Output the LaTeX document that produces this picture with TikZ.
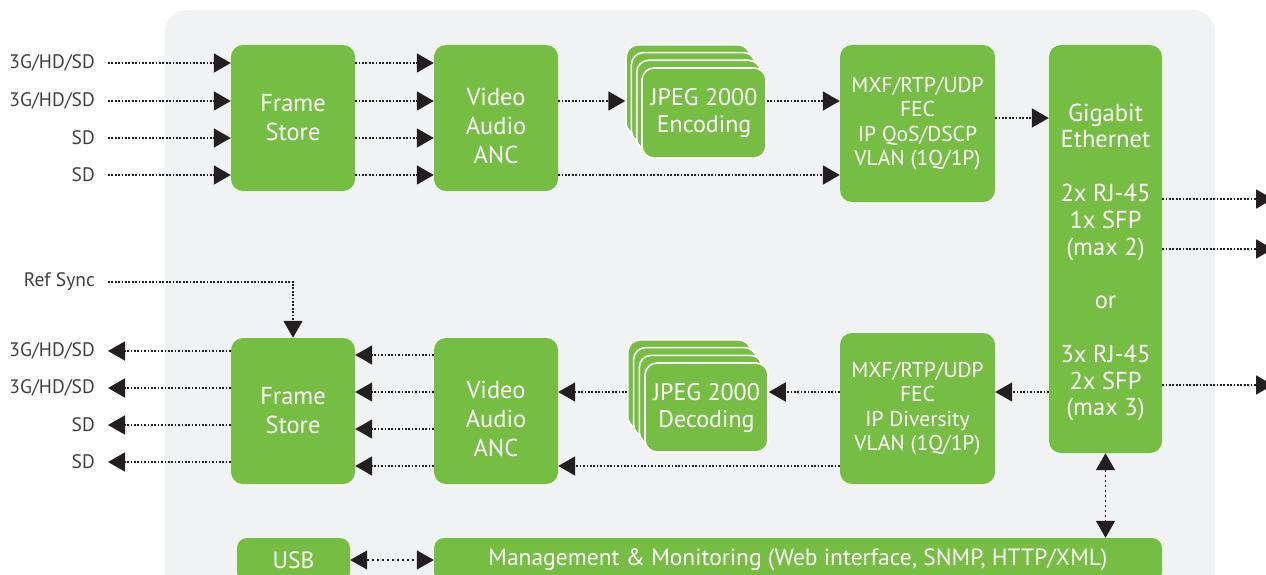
\documentclass[tikz,border=0pt]{standalone}
\usepackage{fontspec}
\setmainfont{PT Sans}
\usetikzlibrary{arrows.meta,calc}
\definecolor{gr}{HTML}{76BE43}
\definecolor{panel}{HTML}{F1F2F4}
\definecolor{ink}{HTML}{231F20}
\definecolor{lbl}{HTML}{404040}
\begin{document}
\begin{tikzpicture}[x=1pt,y=-1pt,
 gbox/.style={fill=gr, rounded corners=12pt, inner sep=0pt, text=white, align=center},
 stk/.style={gbox, draw=white, line width=1.6pt, minimum width=124pt, minimum height=90pt},
 btxt/.style={text=white, align=center, inner sep=0pt},
 lab/.style={text=lbl, anchor=east, inner sep=0pt, font=\fontsize{19.5}{21}\selectfont},
 arr/.style={draw=ink, line width=1.8pt, dash pattern=on 1.7pt off 1.7pt, -{Triangle[length=17pt,width=19pt]}},
 barr/.style={draw=ink, line width=1.5pt, dash pattern=on 2.5pt off 2.5pt, {Triangle[length=17pt,width=19pt]}-{Triangle[length=17pt,width=19pt]}},
 big/.style={font=\fontsize{24.5}{29}\selectfont},
 mid/.style={font=\fontsize{24}{27}\selectfont},
 sml/.style={font=\fontsize{21.5}{24.5}\selectfont},
]
\useasboundingbox (0,0) rectangle (1266,575);
\fill[panel, rounded corners=22pt] (165,10) rectangle (1215,620);

% top row boxes
\node[gbox, big, minimum width=124pt, minimum height=146pt] (fs1) at (293,118) {Frame\\Store};
\node[gbox, minimum width=124pt, minimum height=146pt] (va1) at (496,118) {};
\node[btxt, big] (va1t) at (496,126) {Video\\Audio\\ANC};
\node[stk] (e3) at (688.1,89.9) {};
\node[stk] (e2) at (693.4,97.6) {};
\node[stk] (e1) at (698.7,105.3) {};
\node[stk, mid] (e0) at (704,113) {JPEG 2000\\Encoding};
\node[gbox, sml, minimum width=155pt, minimum height=157pt] (mx1) at (917.5,123.5) {MXF/RTP/UDP\\FEC\\IP QoS/DSCP\\VLAN (1Q/1P)};
\node[gbox, minimum width=113pt, minimum height=408pt] (geth) at (1105.5,249) {};
\node[btxt, font=\fontsize{24.5}{26.8}\selectfont] (gtxt) at (1105.5,262.5) {Gigabit\\Ethernet\\[26.8pt]2x RJ-45\\1x SFP\\(max 2)\\[26.8pt]or\\[26.8pt]3x RJ-45\\2x SFP\\(max 3)};

% bottom row boxes
\node[gbox, big, minimum width=124pt, minimum height=146pt] (fs2) at (293,411) {Frame\\Store};
\node[gbox, minimum width=124pt, minimum height=146pt] (va2) at (496,411) {};
\node[btxt, big] (va2t) at (496,419) {Video\\Audio\\ANC};
\node[stk, minimum width=123pt, minimum height=89pt] (d3) at (689.4,384.4) {};
\node[stk, minimum width=123pt, minimum height=89pt] (d2) at (695.1,392.1) {};
\node[stk, minimum width=123pt, minimum height=89pt] (d1) at (700.8,399.8) {};
\node[stk, mid, minimum width=123pt, minimum height=89pt] (d0) at (706.5,407.5) {JPEG 2000\\Decoding};
\node[gbox, sml, minimum width=155pt, minimum height=151pt] (mx2) at (917.5,408.5) {MXF/RTP/UDP\\FEC\\IP Diversity\\VLAN (1Q/1P)};

\node[gbox, font=\fontsize{23.5}{26}\selectfont, rounded corners=10pt, minimum width=113pt, minimum height=44pt] (usb) at (293.5,560) {USB};
\node[gbox, font=\fontsize{23.5}{26}\selectfont, rounded corners=10pt, minimum width=728pt, minimum height=44pt] (mgmt) at (798,560) {Management \& Monitoring (Web interface, SNMP, HTTP/XML)};

% labels
\node[lab] (li1) at (95,63) {3G/HD/SD};
\node[lab] (li2) at (95,101) {3G/HD/SD};
\node[lab] (li3) at (95,138) {SD};
\node[lab] (li4) at (95,175) {SD};
\node[lab] (lref) at (95,282) {Ref Sync};
\node[lab] (lo1) at (95,351) {3G/HD/SD};
\node[lab] (lo2) at (95,388) {3G/HD/SD};
\node[lab] (lo3) at (95,425) {SD};
\node[lab] (lo4) at (95,462) {SD};

\coordinate (r1) at (0,355);
\coordinate (r2) at (0,392);
\coordinate (r3) at (0,429);
\coordinate (r4) at (0,466);
\coordinate (m1o) at (0,118);
\coordinate (o1) at (1273,199);
\coordinate (o2) at (1273,249);
\coordinate (o3) at (1273,385);

% top arrows
\foreach \l in {li1,li2,li3,li4}{
  \draw[arr] ([xshift=13pt]\l.east) -- (fs1.west |- \l);
  \draw[arr] (fs1.east |- \l) -- (va1.west |- \l);
}
\draw[arr] (va1.east |- li2) -- (e3.west |- li2);
\draw[arr] (e0.east |- li2) -- (mx1.west |- li2);
\draw[arr] (va1.east |- li4) -- (mx1.west |- li4);
\draw[arr] (mx1.east |- m1o) -- (geth.west |- m1o);
\draw[arr] (geth.east |- o1) -- (o1);
\draw[arr] (geth.east |- o2) -- (o2);
\draw[arr] (geth.east |- o3) -- (o3);

% bottom arrows
\draw[arr] (geth.west |- r2) -- (mx2.east |- r2);
\draw[arr] (mx2.west |- r2) -- (d0.east |- r2);
\draw[arr] (d3.west |- r2) -- (va2.east |- r2);
\draw[arr] (mx2.west |- r4) -- (va2.east |- r4);
\foreach \r in {r1,r2,r3,r4}{
  \draw[arr] (va2.west |- \r) -- (fs2.east |- \r);
}
\foreach \l in {lo1,lo2,lo3,lo4}{
  \draw[arr] (fs2.west |- \l) -- ([xshift=13pt]\l.east);
}
\draw[arr] ([xshift=13pt]lref.east) -- (fs2.north |- lref) -- (fs2.north);

\draw[barr] (geth.south) -- (geth.south |- mgmt.north);
\draw[barr] (usb.east) -- (mgmt.west);
\end{tikzpicture}
\end{document}
